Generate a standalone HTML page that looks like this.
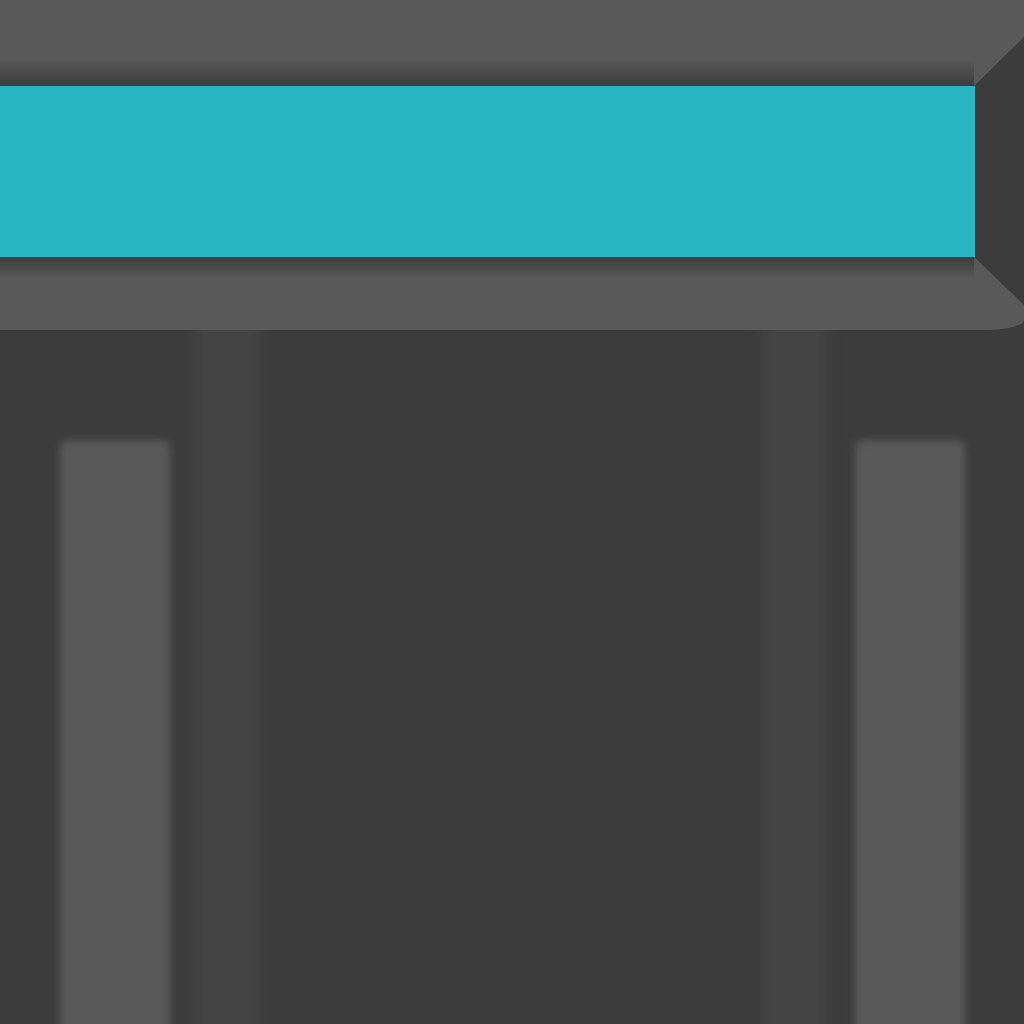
<!DOCTYPE html>
<html><head><meta charset="utf-8"><style>
html,body{margin:0;padding:0;background:#3c3c3c;width:1024px;height:1024px;overflow:hidden}
.abs{position:absolute}
</style></head><body>
<div class="abs" style="left:0;top:0;width:1024px;height:1024px;background:#3c3c3c;overflow:hidden">
  <div class="abs" style="left:195px;top:320px;width:65px;height:720px;background:#444;filter:blur(6px)"></div>
  <div class="abs" style="left:762px;top:320px;width:65px;height:720px;background:#444;filter:blur(6px)"></div>
  <div class="abs" style="left:60px;top:440px;width:110px;height:620px;background:#595959;filter:blur(4px);border-radius:8px"></div>
  <div class="abs" style="left:855px;top:440px;width:110px;height:620px;background:#595959;filter:blur(4px);border-radius:8px"></div>
  <div class="abs" style="left:0;top:0;width:1024px;height:330px;background:#595959;border-bottom-right-radius:40px 10px"></div>
  <div class="abs" style="left:0;top:60px;width:974px;height:26px;background:linear-gradient(#595959,#3c3c3c)"></div>
  <div class="abs" style="left:0;top:257px;width:974px;height:22px;background:linear-gradient(#3c3c3c,#595959)"></div>
  <svg class="abs" style="left:0;top:0" width="1024" height="1024">
    <polygon points="974,86 1024,37 1024,305 974,257" fill="#3c3c3c"/>
  </svg>
  <div class="abs" style="left:0;top:86px;width:975px;height:171px;background:#2ab5c2"></div>
</div>
</body></html>
